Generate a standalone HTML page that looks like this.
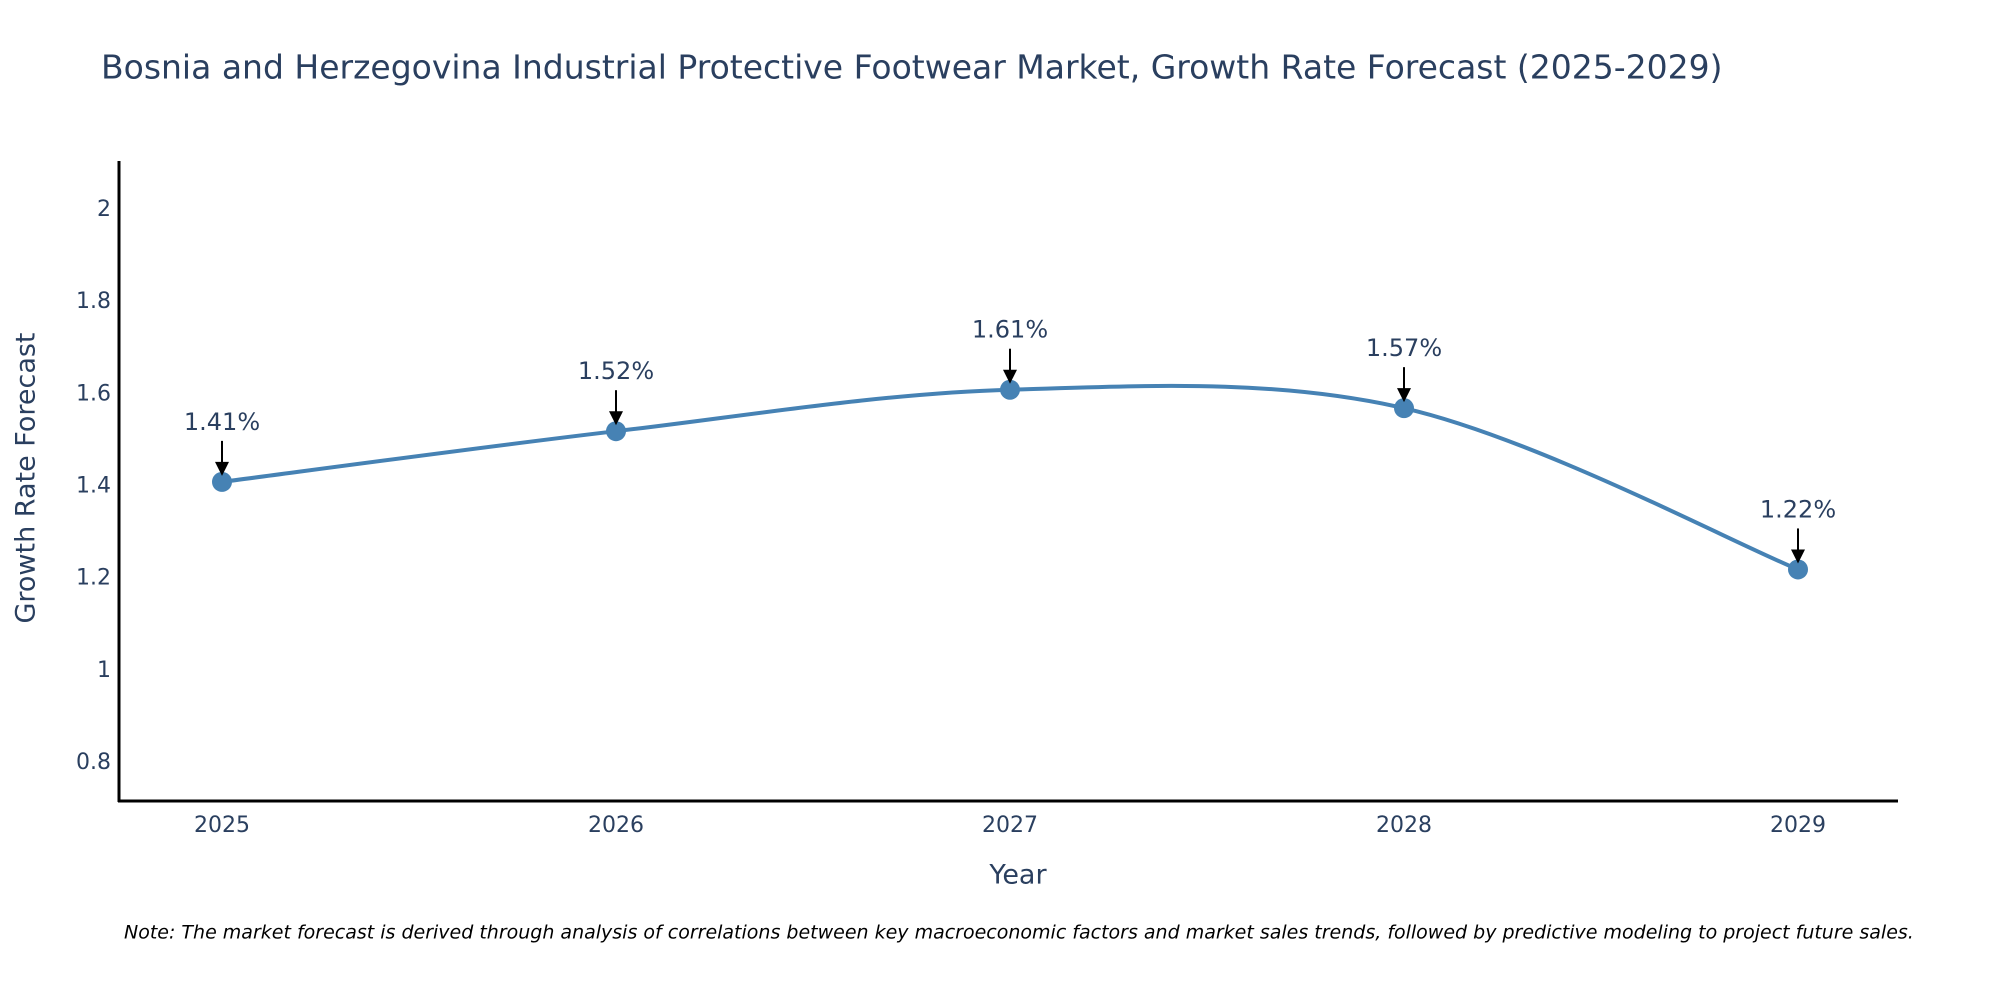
<!DOCTYPE html>
<html><head><meta charset="utf-8"><style>
body{margin:0;background:#fff;}
svg{display:block;font-family:"DejaVu Sans","Liberation Sans",sans-serif;}
</style></head><body>
<svg id="chart" width="2000" height="1000">
<text x="101" y="69" font-size="33" fill="#2a3f5f" dominant-baseline="middle">Bosnia and Herzegovina Industrial Protective Footwear Market, Growth Rate Forecast (2025-2029)</text>
<g id="yticks"></g>
<g id="xticks"></g>
<line x1="119" y1="161" x2="119" y2="802" stroke="#000" stroke-width="3"/>
<line x1="118" y1="801" x2="1898" y2="801" stroke="#000" stroke-width="3"/>
<text transform="translate(27,478) rotate(-90)" text-anchor="middle" dominant-baseline="middle" font-size="27" fill="#2a3f5f">Growth Rate Forecast</text>
<text x="1018" y="876" text-anchor="middle" dominant-baseline="middle" font-size="27" fill="#2a3f5f">Year</text>
<g id="series"></g>
<g id="annots"></g>
<text x="124" y="933" font-size="19" font-style="italic" fill="#000" dominant-baseline="middle">Note: The market forecast is derived through analysis of correlations between key macroeconomic factors and market sales trends, followed by predictive modeling to project future sales.</text>
</svg>
<script>
const years = [2025, 2026, 2027, 2028, 2029];
const growth = [1.41, 1.52, 1.61, 1.57, 1.22];
const yTickValues = [0.8, 1, 1.2, 1.4, 1.6, 1.8, 2];
const labels = ["1.41%", "1.52%", "1.61%", "1.57%", "1.22%"];

const NS = "http://www.w3.org/2000/svg";
function xs(v){ return 222 + (v - 2025) * 394; }
function ys(v){ return 763 - (v - 0.8) / 0.2 * 92.17; }
function mk(tag, attrs, parent){ const e=document.createElementNS(NS,tag); for(const k in attrs) e.setAttribute(k,attrs[k]); parent.appendChild(e); return e; }

const yt=document.getElementById('yticks');
yTickValues.forEach(v=>{
  const t=mk('text',{x:111,y:ys(v),'text-anchor':'end','dominant-baseline':'middle','font-size':22,fill:'#2a3f5f'},yt);
  
  
  t.textContent=String(v);
});
const xt=document.getElementById('xticks');
years.forEach(v=>{
  const t=mk('text',{x:xs(v),y:826,'text-anchor':'middle','dominant-baseline':'middle','font-size':22,fill:'#2a3f5f'},xt);
  
  
  t.textContent=String(v);
});

const pts=years.map((y,i)=>[xs(y),ys(growth[i])]);
let d=`M${pts[0][0]},${pts[0][1]}`;
for(let i=0;i<pts.length-1;i++){
  const p0=pts[Math.max(i-1,0)],p1=pts[i],p2=pts[i+1],p3=pts[Math.min(i+2,pts.length-1)];
  const c1=[p1[0]+(p2[0]-p0[0])/6,p1[1]+(p2[1]-p0[1])/6];
  const c2=[p2[0]-(p3[0]-p1[0])/6,p2[1]-(p3[1]-p1[1])/6];
  d+=` C${c1[0]},${c1[1]} ${c2[0]},${c2[1]} ${p2[0]},${p2[1]}`;
}
const g=document.getElementById('series');
const line=mk('path',{d:d,fill:'none',stroke:'#4682b4','stroke-width':4},g);


pts.forEach(p=>{
  const c=mk('circle',{cx:p[0],cy:p[1],r:10,fill:'#4682b4'},g);
  
  
});

const a=document.getElementById('annots');
pts.forEach((p,i)=>{
  const ar=mk('line',{x1:p[0],y1:p[1]-41,x2:p[0],y2:p[1]-18,stroke:'#000','stroke-width':2},a);
  
  
  const hd=mk('path',{d:`M${p[0]-7},${p[1]-20} L${p[0]+7},${p[1]-20} L${p[0]},${p[1]-6} Z`,fill:'#000'},a);
  
  
  const t=mk('text',{x:p[0],y:p[1]-59,'text-anchor':'middle','dominant-baseline':'middle','font-size':24,fill:'#2a3f5f'},a);
  
  
  t.textContent=labels[i];
});
</script>
</body></html>
